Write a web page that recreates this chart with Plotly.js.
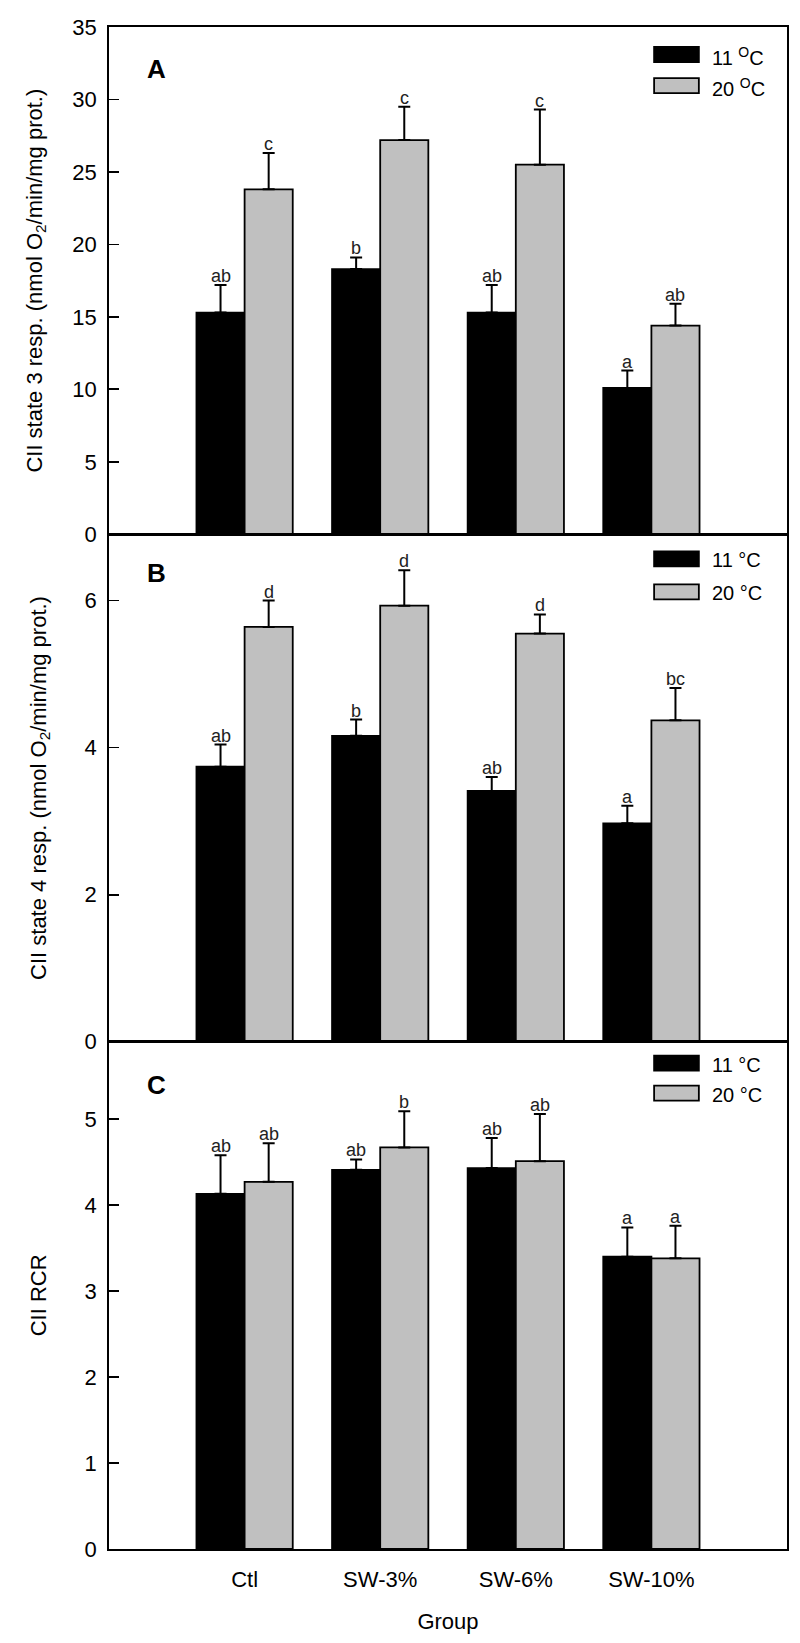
<!DOCTYPE html>
<html>
<head>
<meta charset="utf-8">
<script src="https://cdn.plot.ly/plotly-3.0.1.min.js"></script>
<style>
body { margin: 0; background: #fff; }
#chart { width: 800px; height: 1643px; }
</style>
</head>
<body>
<div id="chart"></div>
<script>
const groups = ['Ctl', 'SW-3%', 'SW-6%', 'SW-10%'];

// A: CII state 3
const state3Cold = [15.3, 18.3, 15.3, 10.1];
const state3ColdErr = [1.9, 0.8, 1.9, 1.2];
const state3Warm = [23.8, 27.2, 25.5, 14.4];
const state3WarmErr = [2.5, 2.3, 3.8, 1.5];
const state3ColdLetters = ['ab', 'b', 'ab', 'a'];
const state3WarmLetters = ['c', 'c', 'c', 'ab'];

// B: CII state 4
const state4Cold = [3.74, 4.16, 3.41, 2.97];
const state4ColdErr = [0.30, 0.22, 0.19, 0.24];
const state4Warm = [5.64, 5.93, 5.55, 4.37];
const state4WarmErr = [0.36, 0.48, 0.26, 0.44];
const state4ColdLetters = ['ab', 'b', 'ab', 'a'];
const state4WarmLetters = ['d', 'd', 'd', 'bc'];

// C: CII RCR
const rcrCold = [4.13, 4.41, 4.43, 3.40];
const rcrColdErr = [0.45, 0.12, 0.35, 0.34];
const rcrWarm = [4.27, 4.67, 4.51, 3.38];
const rcrWarmErr = [0.45, 0.42, 0.55, 0.38];
const rcrColdLetters = ['ab', 'ab', 'ab', 'a'];
const rcrWarmLetters = ['ab', 'b', 'ab', 'a'];

const FONT = 'Liberation Sans, Arial, sans-serif';
const GRAY = '#c0c0c0';
const BARGAP = 0.29;
const halfBar = (1 - BARGAP) / 4; // offset of each bar centre from the group centre
const panelPx = 507; // height of one panel in px, used for legend placement

const panels = [
    {
        tag: 'A', cold: state3Cold, coldErr: state3ColdErr, warm: state3Warm, warmErr: state3WarmErr,
        coldLetters: state3ColdLetters, warmLetters: state3WarmLetters,
        yTitle: 'CII state 3 resp. (nmol O<sub>2</sub>/min/mg prot.)', range: [0, 35], dtick: 5, standoff: 24,
        coldName: '11 <sup>O</sup>C', warmName: '20 <sup>O</sup>C', legTop: 20, legStep: 31, tagY: 42
    },
    {
        tag: 'B', cold: state4Cold, coldErr: state4ColdErr, warm: state4Warm, warmErr: state4WarmErr,
        coldLetters: state4ColdLetters, warmLetters: state4WarmLetters,
        yTitle: 'CII state 4 resp. (nmol O<sub>2</sub>/min/mg prot.)', range: [0, 6.9], dtick: 2, standoff: 32,
        coldName: '11 °C', warmName: '20 °C', legTop: 17, legStep: 33, tagY: 39
    },
    {
        tag: 'C', cold: rcrCold, coldErr: rcrColdErr, warm: rcrWarm, warmErr: rcrWarmErr,
        coldLetters: rcrColdLetters, warmLetters: rcrWarmLetters,
        yTitle: 'CII RCR', range: [0, 5.9], dtick: 1, standoff: 32,
        coldName: '11 °C', warmName: '20 °C', legTop: 14, legStep: 30, tagY: 43
    }
];

const data = [];
const layout = {
    width: 800,
    height: 1643,
    margin: { l: 109, r: 13, t: 27, b: 94 },
    paper_bgcolor: '#fff',
    plot_bgcolor: '#fff',
    font: { family: FONT, color: '#000', size: 22 },
    barmode: 'group',
    bargap: BARGAP,
    bargroupgap: 0,
    showlegend: false,
    annotations: [],
    shapes: []
};

panels.forEach((p, i) => {
    const sfx = i === 0 ? '' : String(i + 1);
    const xa = 'x' + sfx, ya = 'y' + sfx;
    const top = 1 - i / 3, bottom = 1 - (i + 1) / 3;

    const errStyle = (arr) => ({
        type: 'data', symmetric: false, array: arr, arrayminus: arr.map(() => 0),
        color: '#000', thickness: 2, width: 6
    });

    data.push({
        type: 'bar', x: groups, y: p.cold, xaxis: xa, yaxis: ya,
        marker: { color: '#000', line: { color: '#000', width: 1.8 } },
        error_y: errStyle(p.coldErr), hoverinfo: 'skip'
    });
    data.push({
        type: 'bar', x: groups, y: p.warm, xaxis: xa, yaxis: ya,
        marker: { color: GRAY, line: { color: '#000', width: 1.8 } },
        error_y: errStyle(p.warmErr), hoverinfo: 'skip'
    });

    const xaxis = {
        domain: [0, 1], anchor: ya, type: 'category', range: [-1, 4],
        showline: true, mirror: true, linecolor: '#000', linewidth: 1.8,
        ticks: '', showgrid: false, zeroline: false,
        tickfont: { size: 22 }, ticklabelstandoff: 10
    };
    if (i === 2) {
        xaxis.title = { text: 'Group', font: { size: 22 }, standoff: 22 };
    } else {
        // only the bottom panel carries group labels
        xaxis.tickmode = 'array';
        xaxis.tickvals = [];
        xaxis.showticklabels = false;
    }
    layout['xaxis' + sfx] = xaxis;

    layout['yaxis' + sfx] = {
        domain: [bottom, top], anchor: xa, range: p.range, dtick: p.dtick,
        showline: true, mirror: true, linecolor: '#000', linewidth: 1.8,
        ticks: 'inside', ticklen: 10, tickwidth: 1.8, tickcolor: '#000',
        showgrid: false, zeroline: false,
        tickfont: { size: 22 }, ticklabelstandoff: 6,
        title: { text: p.yTitle, font: { size: 22 }, standoff: p.standoff }
    };

    // significance letters above the error bars
    groups.forEach((g, j) => {
        [[p.cold, p.coldErr, p.coldLetters, -halfBar], [p.warm, p.warmErr, p.warmLetters, halfBar]]
            .forEach(([vals, errs, letters, off]) => {
                layout.annotations.push({
                    xref: xa, yref: ya, x: j + off, y: vals[j] + errs[j],
                    text: letters[j], showarrow: false, yanchor: 'bottom', yshift: -3,
                    font: { size: 18, color: '#222' }
                });
            });
    });

    // panel tag
    layout.annotations.push({
        xref: xa + ' domain', yref: ya + ' domain', x: 0.053, y: 1 - p.tagY / panelPx,
        xanchor: 'left', yanchor: 'middle', showarrow: false,
        text: '<b>' + p.tag + '</b>', font: { size: 26 }
    });

    // legend
    [[p.coldName, '#000', 0], [p.warmName, GRAY, 1]].forEach(([name, fill, k]) => {
        const y0 = p.legTop + k * p.legStep;
        layout.shapes.push({
            type: 'rect', xref: xa + ' domain', yref: ya + ' domain',
            x0: 0.804, x1: 0.870, y0: 1 - (y0 + 15) / panelPx, y1: 1 - y0 / panelPx,
            fillcolor: fill, line: { color: '#000', width: 1.8 }
        });
        layout.annotations.push({
            xref: xa + ' domain', yref: ya + ' domain', x: 0.886, y: 1 - (y0 + 9) / panelPx,
            xanchor: 'left', yanchor: 'middle', showarrow: false,
            text: name, font: { size: 20 }
        });
    });
});

Plotly.newPlot('chart', data, layout, { staticPlot: true });
</script>
</body>
</html>
